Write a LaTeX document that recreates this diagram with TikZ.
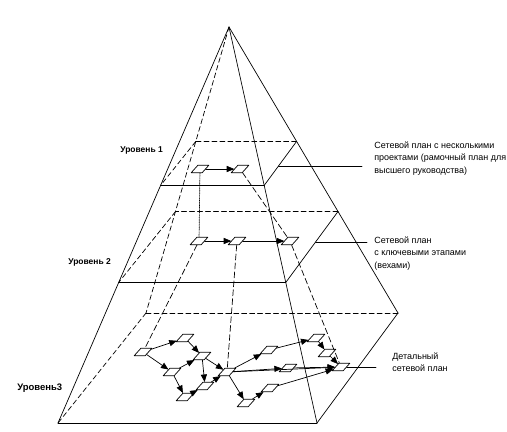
\documentclass[tikz,border=0pt]{standalone}
\usepackage{fontspec}
\setmainfont{Liberation Sans}
\usetikzlibrary{arrows}
\tikzset{
  plan/.style={draw,fill=white,inner sep=0pt,minimum width=11pt,minimum height=7.5pt,xslant=0.9},
  hid/.style={dash pattern=on 5pt off 3pt},
  proj/.style={dash pattern=on 6pt off 3pt},
  lvl/.style={font=\fontsize{8.5}{10}\selectfont\bfseries,anchor=west,inner sep=0pt},
  note/.style={font=\fontsize{9}{12.8}\selectfont,anchor=north west,align=left,inner sep=0pt}
}
\begin{document}
\begin{tikzpicture}[line cap=round,line join=round,>=triangle 45,x=1bp,y=1bp,line width=0.7pt]
\useasboundingbox (0,0) rectangle (507,-431);
% corners of the pyramid
\coordinate (A) at (229,-27);
\coordinate (FL) at (58,-423);
\coordinate (FR) at (317,-423);
\coordinate (BR) at (398,-313);
\coordinate (BL) at (146,-313);
% level 1 cut
\coordinate (FL1) at (160.6,-185.4);
\coordinate (FR1) at (264.2,-185.4);
\coordinate (BR1) at (296.6,-141.4);
\coordinate (BL1) at (195.8,-141.4);
% level 2 cut
\coordinate (FL2) at (118.7,-282.4);
\coordinate (FR2) at (285.8,-282.4);
\coordinate (BR2) at (338.0,-211.5);
\coordinate (BL2) at (175.5,-211.5);
% leader ends
\coordinate (c1) at (278.5,-166);
\coordinate (d1) at (362,-166);
\coordinate (c2) at (315.6,-242);
\coordinate (d2) at (367,-242);
\coordinate (d3) at (376,-367);

\draw (A)-- (FL);
\draw (A)-- (FR);
\draw (A)-- (BR);
\draw (FL)-- (FR);
\draw (FR)-- (BR);
\draw[hid] (A)-- (BL);
\draw[hid] (BL)-- (FL);
\draw[hid] (BL)-- (BR);

\draw[line width=1.2pt] (FL1)-- (FR1);
\draw (FR1)-- (BR1);
\draw[hid] (BR1)-- (BL1);
\draw[hid] (BL1)-- (FL1);
\draw (FL2)-- (FR2);
\draw (FR2)-- (BR2);
\draw[hid] (BR2)-- (BL2);
\draw[hid] (BL2)-- (FL2);

\draw (c1)-- (d1);
\draw (c2)-- (d2);

% level 1
\node[plan] (p11) at (200,-169) {};
\node[plan] (p12) at (240,-169) {};
% level 2
\node[plan] (p21) at (199,-241) {};
\node[plan] (p22) at (237,-241) {};
\node[plan] (p23) at (290,-241) {};
% level 3
\node[plan] (n1) at (143,-352) {};
\node[plan] (n2) at (185,-338) {};
\node[plan] (n3) at (202,-356) {};
\node[plan] (n4) at (172,-372) {};
\node[plan] (n5) at (205,-386) {};
\node[plan] (n6) at (185,-397) {};
\node[plan] (n7) at (227,-372) {};
\node[plan] (n8) at (269,-350) {};
\node[plan] (n9) at (316,-338) {};
\node[plan] (n10) at (327,-353) {};
\node[plan] (n11) at (288,-368) {};
\node[plan] (n12) at (341,-367) {};
\node[plan] (n13) at (270,-388) {};
\node[plan] (n14) at (246,-403) {};

\draw[->] (p11)-- (p12);
\draw[->] (p21)-- (p22);
\draw[->] (p22)-- (p23);
\draw[densely dotted] (p11)-- (p21);
\draw[proj] (p12)-- (p23);
\draw[proj] (p21)-- (n1);
\draw[proj] (p22)-- (n7);
\draw[proj] (p23)-- (n12);

\draw[->] (n1)-- (n2);
\draw[->] (n1)-- (n4);
\draw[->] (n2)-- (n3);
\draw[->] (n4)-- (n3);
\draw[->] (n3)-- (n7);
\draw[->] (n3)-- (n5);
\draw[->] (n4)-- (n6);
\draw[->] (n6)-- (n5);
\draw[->] (n5)-- (n7);
\draw[->] (n7)-- (n8);
\draw[->] (n7)-- (n11);
\draw[->] (n7)-- (n14);
\draw[->] (n7)-- (n12);
\draw[->] (n14)-- (n13);
\draw[->] (n13)-- (n12);
\draw[->] (n8)-- (n9);
\draw[->] (n9)-- (n10);
\draw[->] (n10)-- (n12);
\draw[->] (n11)-- (n12);
\draw (n12)-- (d3);

\node[lvl] (u1) at (120,-150) {Уровень 1};
\node[lvl] (u2) at (68,-262) {Уровень 2};
\node[lvl,font=\fontsize{9.5}{11}\selectfont\bfseries] (u3) at (17,-388) {Уровень3};
\node[note] (t1) at (374,-141) {Сетевой план с несколькими\\проектами (рамочный план для\\высшего руководства)};
\node[note] (t2) at (374,-236) {Сетевой план\\с ключевыми этапами\\(вехами)};
\node[note] (t3) at (392,-352) {Детальный\\сетевой план};
\end{tikzpicture}
\end{document}
